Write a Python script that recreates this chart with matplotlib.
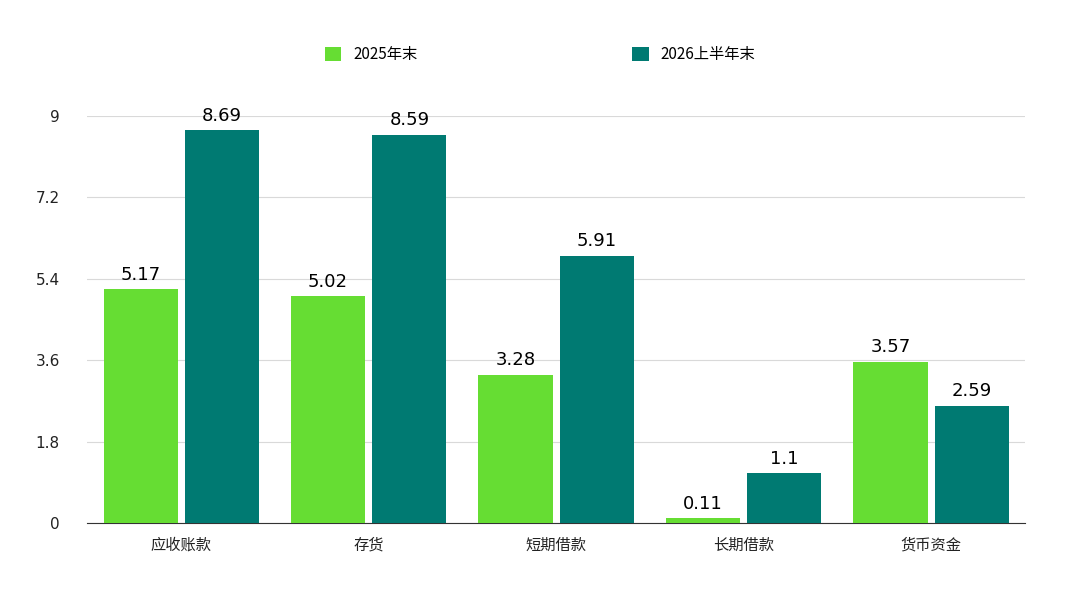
import matplotlib.pyplot as plt
import numpy as np

plt.rcParams['font.family'] = ['Noto Sans CJK SC', 'DejaVu Sans']

categories = ["应收账款", "存货", "短期借款", "长期借款", "货币资金"]
values_2025 = [5.17, 5.02, 3.28, 0.11, 3.57]
values_2026 = [8.69, 8.59, 5.91, 1.1, 2.59]
series_names = ["2025年末", "2026上半年末"]
yticks = [0, 1.8, 3.6, 5.4, 7.2, 9]

green = "#66DD33"
teal = "#007A72"

fig = plt.figure(figsize=(10.8, 5.89), dpi=100)
ax = fig.add_axes([0.081, 0.112, 0.868, 0.691])

x = np.arange(len(categories))
w = 0.395
off = 0.217
b1 = ax.bar(x - off, values_2025, w, color=green, label=series_names[0], zorder=3)
b2 = ax.bar(x + off, values_2026, w, color=teal, label=series_names[1], zorder=3)

for bars, vals in [(b1, values_2025), (b2, values_2026)]:
    for b, v in zip(bars, vals):
        ax.text(b.get_x() + b.get_width() / 2, v + 0.12, f"{v:g}",
                ha="center", va="bottom", fontsize=13, family="DejaVu Sans")

ax.set_xlim(-0.5, 4.5)
ax.set_ylim(0, 9)
ax.set_yticks(yticks)
ax.set_yticklabels([f"{t:g}" for t in yticks], family="DejaVu Sans")
ax.set_xticks(x)
ax.set_xticklabels(categories)
ax.tick_params(axis="both", length=0, labelsize=11, colors="#222222")
ax.tick_params(axis="y", pad=20)
ax.tick_params(axis="x", pad=10)
ax.grid(axis="y", color="#d9d9d9", linewidth=0.8, zorder=0)
for s in ["left", "right", "top"]:
    ax.spines[s].set_visible(False)
ax.spines["bottom"].set_color("#333333")

fig.legend(handles=[b1, b2], loc="center", bbox_to_anchor=(0.5, 0.907), ncol=2,
           frameon=False, fontsize=11, handlelength=1.1, handleheight=1.1,
           columnspacing=14, handletextpad=0.8)

fig.savefig("out.png", dpi=100)
